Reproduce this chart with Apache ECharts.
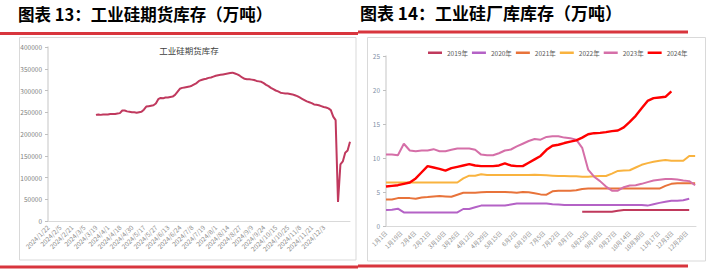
<!DOCTYPE html>
<html><head><meta charset="utf-8">
<script src="https://cdn.jsdelivr.net/npm/echarts@6/dist/echarts.min.js"></script>
<style>html,body{margin:0;padding:0;background:#fff}#c{width:716px;height:271px}</style>
</head><body><div id="c"></div>
<script>
// ---------- Left chart: 工业硅期货库存 (daily, trading days) ----------
const leftTickLabels = ['2024/1/22','2024/2/5','2024/2/21','2024/3/5','2024/3/19','2024/4/1','2024/4/18','2024/4/30','2024/5/17','2024/5/27','2024/6/13','2024/6/24','2024/7/8','2024/7/19','2024/8/1','2024/8/14','2024/8/27','2024/9/9','2024/9/24','2024/10/15','2024/10/25','2024/11/8','2024/11/21','2024/12/3'];
const leftStartLabel = '2024/3/19';
const leftValues = [244000,245000,244000,245000,245000,245000,246000,246000,246000,247000,
248000,254000,254000,252000,251000,250000,250000,249000,250000,251000,
256000,263000,264000,265000,266000,270000,280000,283000,282000,284000,
284000,285000,286000,290000,297000,304000,306000,307000,308000,309000,
311000,314000,317000,322000,324000,326000,327000,329000,330000,332000,
334000,335000,336000,337000,338000,339000,340000,341000,339000,337000,
334000,330000,327000,326000,326000,325000,324000,322000,321000,320000,
317000,313000,310000,306000,303000,300000,298000,295000,294000,293000,
293000,292000,291000,289000,287000,284000,281000,278000,275000,273000,
271000,268000,267000,266000,264000,262000,261000,259000,255000,240000,
232000,44000,130000,137000,157000,162000,182000];
const leftSeriesName = '工业硅期货库存';

// ---------- Right chart: 工业硅厂库库存 (weekly samples, 万吨) ----------
const rightTickLabels = ['1月1日','1月19日','2月4日','2月21日','3月10日','3月26日','4月12日','4月29日','5月15日','6月2日','6月19日','7月5日','7月22日','8月7日','8月25日','9月10日','9月27日','10月14日','10月30日','11月17日','12月3日','12月20日'];
const yearNames = ['2019年','2020年','2021年','2022年','2023年','2024年'];
const v2019 = [null,null,null,null,null,null,null,null,null,null,null,null,null,null,null,null,null,null,null,null,null,null,null,null,null,null,null,null,null,null,null,null,null,
2.1,2.1,2.1,2.1,2.1,2.1,2.25,2.35,2.35,2.35,2.35,2.35,2.35,2.35,2.35,2.35,2.35,2.35,2.35,null];
const v2020 = [2.35,2.4,2.55,2.0,2.0,2.0,2.0,2.0,2.0,2.0,2.0,2.0,2.0,2.5,2.5,2.75,3.0,3.0,3.0,3.0,3.0,3.15,3.3,3.3,3.3,3.3,3.3,3.3,3.2,3.15,
3.1,3.1,3.1,3.1,3.1,3.1,3.1,3.1,3.1,3.1,3.1,3.1,3.1,3.1,3.0,3.2,3.4,3.55,3.7,3.7,3.8,4.0,null];
const v2021 = [3.9,3.9,4.1,4.1,4.1,4.0,4.2,4.25,4.35,4.4,4.35,4.3,4.6,4.9,4.9,4.9,4.95,5.0,5.0,5.0,5.0,4.95,4.9,5.0,4.95,4.8,4.65,4.6,5.1,5.2,
5.2,5.2,5.25,5.45,5.5,5.5,5.5,5.5,5.5,5.5,5.5,5.5,5.5,5.5,5.5,5.5,5.5,5.9,6.2,6.3,6.3,6.3,6.3];
const v2022 = [6.4,6.4,6.4,6.4,6.4,6.4,6.4,6.4,6.4,6.4,6.4,6.4,6.4,7.0,7.4,7.4,7.6,7.5,7.5,7.5,7.5,7.5,7.5,7.5,7.5,7.55,7.5,7.45,7.4,7.35,
7.35,7.3,7.3,7.25,7.25,7.3,7.35,7.35,7.7,8.1,8.15,8.2,8.6,9.0,9.25,9.45,9.6,9.7,9.6,9.6,9.6,10.3,10.3];
const v2023 = [10.5,10.5,10.4,12.1,11.1,11.0,11.1,11.1,11.3,11.0,11.0,11.2,11.4,11.4,11.4,11.2,10.5,10.4,10.4,10.7,11.1,11.25,11.7,12.1,12.5,12.8,12.7,13.1,13.2,13.2,
13.0,12.9,12.7,11.5,8.3,7.25,6.6,5.8,5.2,5.2,5.7,5.95,6.0,6.2,6.45,6.7,6.8,6.9,6.9,6.85,6.7,6.6,6.0];
const v2024 = [5.8,5.9,6.0,6.2,6.4,7.0,7.9,8.8,8.6,8.4,8.15,8.5,8.7,8.9,9.1,8.9,8.8,8.8,8.8,8.9,9.2,8.9,8.8,8.8,9.3,9.8,10.3,11.2,11.8,11.95,
12.2,12.4,12.6,13.0,13.5,13.65,13.7,13.8,13.95,14.05,14.5,15.3,16.2,17.3,18.4,18.8,18.9,19.0,19.8,null,null,null,null];
const yearValues = [v2019, v2020, v2021, v2022, v2023, v2024];
const yearColors = ['#c0395c','#b462c6','#e8733a','#f9b33f','#d56fa8','#ff0000'];
const sampleStepDays = 7;

// ---------- build category axes ----------
const leftCats = [];
for (let i = 0; i < 127; i++) {
  const k = i / 5;
  leftCats.push(i % 5 === 0 && k < leftTickLabels.length ? leftTickLabels[k] : '·' + i);
}
const leftStart = leftCats.indexOf(leftStartLabel);
const leftData = leftCats.map((c, i) => (i >= leftStart && i - leftStart < leftValues.length) ? leftValues[i - leftStart] : null);

const dayCats = [];
for (let d = new Date(2024, 0, 1); d.getFullYear() === 2024; d.setDate(d.getDate() + 1)) {
  dayCats.push((d.getMonth() + 1) + '月' + d.getDate() + '日');
}
const rightSeries = yearNames.map((n, s) => ({
  name: n, type: 'line', xAxisIndex: 1, yAxisIndex: 1, symbol: 'none', showSymbol: false,
  lineStyle: { width: s === 5 ? 2.4 : 2, color: yearColors[s] }, itemStyle: { color: yearColors[s] },
  z: s === 5 ? 5 : 3,
  data: yearValues[s].map((v, k) => [dayCats[k * sampleStepDays], v])
}));

const FONT = '"Noto Sans CJK SC", "Noto Sans", sans-serif';
const chart = echarts.init(document.getElementById('c'), null, { renderer: 'svg' });
chart.setOption({
  animation: false,
  textStyle: { fontFamily: FONT },
  graphic: [
    { type: 'rect', shape: { x: 19.5, y: 37.5, width: 336.5, height: 222.5 }, style: { fill: 'none', stroke: '#d9d9d9', lineWidth: 1 }, silent: true },
    { type: 'rect', shape: { x: 367.5, y: 37.5, width: 338, height: 223.5 }, style: { fill: 'none', stroke: '#d9d9d9', lineWidth: 1 }, silent: true },
    { type: 'rect', shape: { x: 0, y: 32, width: 358, height: 3 }, style: { fill: '#d8353d' }, silent: true },
    { type: 'rect', shape: { x: 358, y: 30.5, width: 330, height: 3 }, style: { fill: '#d8353d' }, silent: true },
    { type: 'rect', shape: { x: 0, y: 265.5, width: 358, height: 3 }, style: { fill: '#d8353d' }, silent: true },
    { type: 'rect', shape: { x: 358, y: 264.5, width: 330, height: 3 }, style: { fill: '#d8353d' }, silent: true },
    { type: 'text', x: 18, y: 13.5, style: { text: '图表 13：工业硅期货库存（万吨）', fill: '#000', font: 'bold 16.5px ' + FONT, verticalAlign: 'middle', align: 'left' } },
    { type: 'text', x: 360, y: 12.5, style: { text: '图表 14：工业硅厂库库存（万吨）', fill: '#000', font: 'bold 17px ' + FONT, verticalAlign: 'middle', align: 'left' } },
    { type: 'text', x: 189, y: 50, style: { text: leftSeriesName, fill: '#404040', font: '8.5px ' + FONT, verticalAlign: 'middle', align: 'center' } }
  ],
  legend: {
    left: 428, top: 49.5, itemWidth: 14, itemHeight: 2.5, itemGap: 4, padding: 0, icon: 'rect',
    textStyle: { fontSize: 6.5, color: '#595959' },
    data: yearNames
  },
  grid: [
    { left: 48, right: 366, top: 47, bottom: 50 },
    { left: 386, right: 20, top: 56, bottom: 45 }
  ],
  xAxis: [
    { type: 'category', gridIndex: 0, data: leftCats, boundaryGap: false,
      axisLine: { lineStyle: { color: '#d9d9d9' } }, axisTick: { show: false },
      axisLabel: { rotate: 45, fontSize: 6.5, color: '#8c8c8c', margin: 5,
        interval: (i, v) => leftTickLabels.includes(v) } },
    { type: 'category', gridIndex: 1, data: dayCats, boundaryGap: false,
      axisLine: { lineStyle: { color: '#d9d9d9' } }, axisTick: { show: false },
      axisLabel: { rotate: 45, fontSize: 6, color: '#8c8c8c', margin: 6,
        interval: (i, v) => rightTickLabels.includes(v) } }
  ],
  yAxis: [
    { type: 'value', gridIndex: 0, min: 0, max: 400000, interval: 50000,
      axisLine: { show: true, lineStyle: { color: '#d9d9d9', width: 1.5 } },
      axisTick: { show: true, length: 3, lineStyle: { color: '#bfbfbf' } },
      splitLine: { show: false },
      axisLabel: { fontSize: 6.5, color: '#808080', margin: 6, formatter: v => String(v) } },
    { type: 'value', gridIndex: 1, min: 0, max: 25, interval: 5,
      axisLine: { show: true, lineStyle: { color: '#d9d9d9', width: 1.5 } },
      axisTick: { show: true, length: 3, lineStyle: { color: '#bfbfbf' } },
      splitLine: { show: false },
      axisLabel: { fontSize: 6.5, color: '#7f8fa6', margin: 6 } }
  ],
  series: [
    { name: leftSeriesName, type: 'line', xAxisIndex: 0, yAxisIndex: 0, symbol: 'none', showSymbol: false,
      lineStyle: { width: 2, color: '#c0395e' }, itemStyle: { color: '#c0395e' }, data: leftData }
  ].concat(rightSeries)
});
</script>
</body></html>
